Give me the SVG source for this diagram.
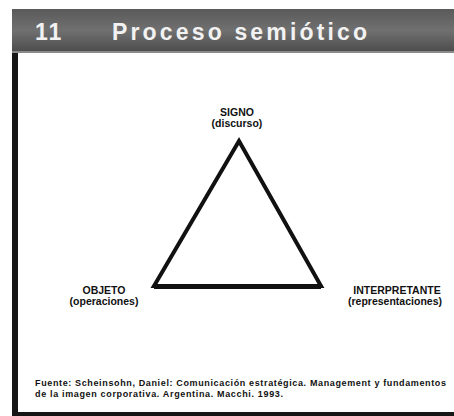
<svg xmlns="http://www.w3.org/2000/svg" width="454" height="416" viewBox="0 0 454 416">
<defs>
<linearGradient id="hdr" x1="0" y1="0" x2="0" y2="1">
<stop offset="0" stop-color="#5a5a5a"/>
<stop offset="0.5" stop-color="#707070"/>
<stop offset="1" stop-color="#4c4c4c"/>
</linearGradient>
</defs>
<style>
.lbl{font-family:"Liberation Sans",Arial,sans-serif;font-size:10.5px;font-weight:bold;fill:#111;text-anchor:middle}
.foot{font-family:"Liberation Sans",Arial,sans-serif;font-size:9px;font-weight:bold;fill:#111}
.title{font-family:"Liberation Sans",Arial,sans-serif;font-size:23px;font-weight:bold;fill:#f2f2f2}
</style>
<rect width="454" height="416" fill="#fff"/>
<g id="frame">
<rect x="12" y="9" width="442" height="43" fill="url(#hdr)"/>
<rect x="12" y="51" width="442" height="2" fill="#8a8a8a"/>
<rect x="12" y="53" width="6" height="360" fill="#161616"/>
<rect x="12" y="412" width="442" height="4" fill="#161616"/>
</g>
<g id="title">
<text class="title" x="35" y="40" letter-spacing="2">11</text>
<text class="title" x="112" y="40" textLength="255" lengthAdjust="spacing">Proceso semiótico</text>
</g>
<g id="connectors">
<polygon points="239,141 154,286 321,286" fill="none" stroke="#111" stroke-width="4" stroke-linejoin="miter"/>
<line x1="154" y1="286.5" x2="321" y2="286.5" stroke="#111" stroke-width="5"/>
</g>
<g id="signo">
<text class="lbl" x="237" y="116">SIGNO</text>
<text class="lbl" x="237" y="127">(discurso)</text>
</g>
<g id="objeto">
<text class="lbl" x="104" y="294">OBJETO</text>
<text class="lbl" x="104" y="305">(operaciones)</text>
</g>
<g id="interpretante">
<text class="lbl" x="397" y="294">INTERPRETANTE</text>
<text class="lbl" x="395" y="305">(representaciones)</text>
</g>
<g id="fuente">
<text class="foot" x="35" y="386" textLength="411" lengthAdjust="spacing">Fuente: Scheinsohn, Daniel: Comunicación estratégica. Management y fundamentos</text>
<text class="foot" x="35" y="397" textLength="248" lengthAdjust="spacing">de la imagen corporativa. Argentina. Macchi. 1993.</text>
</g>
</svg>
